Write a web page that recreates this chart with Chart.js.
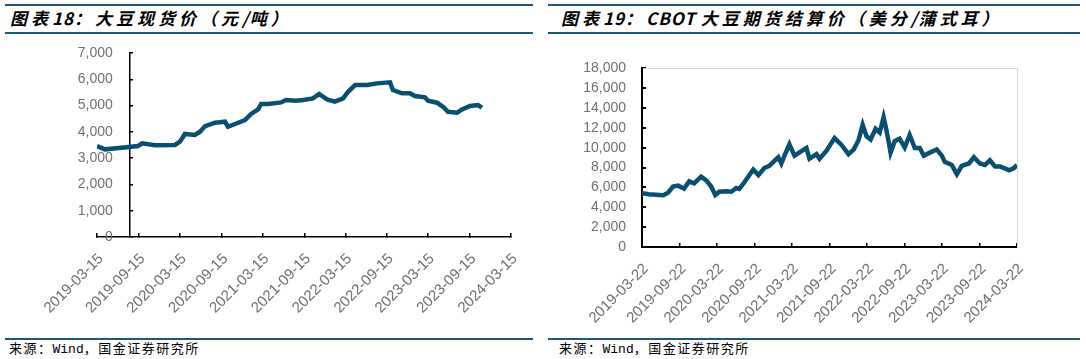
<!DOCTYPE html>
<html>
<head>
<meta charset="utf-8">
<script src="https://cdn.jsdelivr.net/npm/chart.js@4.4.1/dist/chart.umd.min.js"></script>
<style>
body{margin:0;width:1086px;height:359px;background:#fff;position:relative;overflow:hidden;font-family:"Noto Sans CJK SC",sans-serif;color:#000}
.rule{position:absolute;height:2px;background:#1d5876}
.title{position:absolute;top:6px;line-height:24px;font-size:17px;font-style:italic;font-weight:bold;letter-spacing:4px;white-space:nowrap}
.title .lat{letter-spacing:1px}
.src{position:absolute;top:340px;line-height:16px;font-size:13px;letter-spacing:1.5px;white-space:nowrap}
.src .lat{font-family:"Liberation Mono",monospace;letter-spacing:0}
.box{position:absolute;top:40px;width:543px;height:296px}
</style>
</head>
<body>
<div class="rule" style="left:5px;top:4px;width:528px"></div>
<div class="rule" style="left:5px;top:32px;width:528px"></div>
<div class="rule" style="left:548px;top:4px;width:532px"></div>
<div class="rule" style="left:548px;top:32px;width:532px"></div>
<div class="title" style="left:10px">图表<span class="lat">18</span>：大豆现货价（元<span class="lat">/</span>吨）</div>
<div class="title" style="left:561px">图表<span class="lat">19</span>：<span class="lat">CBOT </span>大豆期货结算价（美分<span class="lat">/</span>蒲式耳）</div>

<div class="box" style="left:0"><canvas id="spotChart"></canvas></div>
<div class="box" style="left:543px"><canvas id="cbotChart"></canvas></div>

<div class="rule" style="left:5px;top:338px;width:528px"></div>
<div class="rule" style="left:548px;top:338px;width:532px"></div>
<div class="src" style="left:9px">来源：<span class="lat">Wind</span>，国金证券研究所</div>
<div class="src" style="left:559px">来源：<span class="lat">Wind</span>，国金证券研究所</div>

<script>
// 大豆现货价（元/吨）
const spotDates = ['2019-03-15','2019-04-19','2019-06-20','2019-09-12','2019-09-30','2019-11-26','2020-02-22','2020-03-15','2020-04-06','2020-05-20','2020-06-12','2020-07-04','2020-08-17','2020-09-30','2020-10-13','2020-11-13','2020-12-27','2021-01-23','2021-02-23','2021-03-08','2021-04-08','2021-06-04','2021-06-26','2021-08-09','2021-09-09','2021-10-23','2021-11-19','2021-12-24','2022-01-28','2022-03-05','2022-03-27','2022-04-27','2022-06-19','2022-08-02','2022-09-28','2022-10-11','2022-11-20','2022-12-25','2023-01-16','2023-03-01','2023-03-15','2023-04-23','2023-05-20','2023-06-11','2023-07-21','2023-08-12','2023-09-16','2023-10-21','2023-11-08'];
const spotValues = [3460,3335,3390,3460,3565,3490,3500,3625,3920,3880,4005,4220,4350,4385,4195,4300,4450,4680,4855,5060,5060,5120,5210,5185,5210,5275,5440,5235,5150,5275,5525,5780,5780,5845,5885,5590,5465,5465,5365,5315,5185,5110,4955,4765,4730,4855,4985,5020,4920];
const spotTicks = ['2019-03-15','2019-09-15','2020-03-15','2020-09-15','2021-03-15','2021-09-15','2022-03-15','2022-09-15','2023-03-15','2023-09-15','2024-03-15'];

// CBOT 大豆期货结算价（美分/蒲式耳）
const cbotDates = ['2019-03-22','2019-04-25','2019-07-03','2019-07-27','2019-08-20','2019-09-14','2019-10-13','2019-11-07','2019-12-01','2020-01-04','2020-01-29','2020-02-22','2020-03-13','2020-04-01','2020-05-05','2020-05-30','2020-06-23','2020-07-08','2020-08-01','2020-09-14','2020-10-09','2020-11-07','2020-12-01','2020-12-21','2021-01-14','2021-01-29','2021-02-13','2021-03-09','2021-04-03','2021-05-07','2021-05-31','2021-06-15','2021-07-19','2021-08-03','2021-09-06','2021-10-15','2021-11-18','2021-12-22','2022-01-16','2022-02-09','2022-03-01','2022-03-20','2022-04-09','2022-05-03','2022-05-23','2022-06-11','2022-06-21','2022-07-06','2022-07-15','2022-08-04','2022-08-28','2022-09-22','2022-10-16','2022-11-10','2022-12-04','2022-12-24','2023-01-22','2023-02-25','2023-03-22','2023-04-05','2023-05-09','2023-06-03','2023-06-27','2023-08-01','2023-08-25','2023-09-23','2023-10-18','2023-11-11','2023-12-06','2023-12-30','2024-02-12','2024-03-07','2024-03-22'];
const cbotValues = [5410,5315,5220,5470,6090,6185,5875,6620,6405,7090,6715,6090,5250,5570,5625,5570,5940,5850,6500,7805,7245,7955,8180,8580,9045,8420,9205,10350,9205,9670,9980,8890,9355,8890,9700,10975,10290,9355,9820,10755,12310,11160,10845,11910,11535,13085,12150,10600,9510,10660,10910,10040,11285,9980,9980,9205,9510,9820,9205,8580,8270,7340,8180,8420,9045,8420,8270,8740,8115,8115,7740,7955,8270];
const cbotTicks = ['2019-03-22','2019-09-22','2020-03-22','2020-09-22','2021-03-22','2021-09-22','2022-03-22','2022-09-22','2023-03-22','2023-09-22','2024-03-22'];

const lineColor = '#0b4f70';
const labelColor = '#707070';
const yFont = {family: '"Liberation Sans", Arial, sans-serif', size: 14};
const xFont = {family: '"Liberation Sans", Arial, sans-serif', size: 15};

const dayOf = (s, base) => (Date.UTC(+s.slice(0,4), +s.slice(5,7) - 1, +s.slice(8,10)) - base) / 86400000;
const fmt = v => v.toLocaleString('en-US');

function xScale(tickDates, base, axisHeight) {
  const tickDays = tickDates.map(d => dayOf(d, base));
  return {
    type: 'linear', min: 0, max: tickDays[tickDays.length - 1],
    afterBuildTicks: s => { s.ticks = tickDays.map(v => ({value: v})); },
    afterFit: s => { s.height = axisHeight; },
    grid: {display: true, drawOnChartArea: false, drawTicks: true, tickLength: -4, color: '#000', lineWidth: 1.5},
    border: {color: '#000', width: 1.5},
    ticks: {
      autoSkip: false, minRotation: 45, maxRotation: 45, padding: 17, labelOffset: 4,
      color: labelColor, font: xFont,
      callback: v => tickDates[tickDays.indexOf(v)]
    }
  };
}

/* 左图：大豆现货价 */
const spotBase = Date.UTC(2019, 2, 15);
const spotPoints = spotDates.map((d, i) => ({x: dayOf(d, spotBase), y: spotValues[i]}));
const spotYAxisDay = 146, spotLabelDay = 70;
new Chart(document.getElementById('spotChart'), {
  type: 'line',
  data: {datasets: [{data: spotPoints, borderColor: lineColor, borderWidth: 4.5, pointRadius: 0, tension: 0}]},
  options: {
    responsive: true, maintainAspectRatio: false, animation: false,
    layout: {padding: {left: 97, right: 32, top: 13, bottom: 0}},
    plugins: {legend: {display: false}, tooltip: {enabled: false}},
    scales: {
      x: xScale(spotTicks, spotBase, 99),
      y: {
        position: {x: spotYAxisDay}, min: 0, max: 7000,
        ticks: {display: false, stepSize: 1000},
        grid: {drawOnChartArea: false, tickLength: -4, color: '#000', lineWidth: 1.5},
        border: {color: '#000', width: 1.5}
      },
      yl: {
        axis: 'y', position: {x: spotLabelDay}, min: 0, max: 7000,
        ticks: {stepSize: 1000, color: labelColor, font: yFont, callback: fmt},
        grid: {display: false}, border: {display: false}
      }
    }
  }
});

/* 右图：CBOT 大豆期货结算价 */
const cbotBase = Date.UTC(2019, 2, 22);
const cbotPoints = cbotDates.map((d, i) => ({x: dayOf(d, cbotBase), y: cbotValues[i]}));
const cbotX = xScale(cbotTicks, cbotBase, 89);
cbotX.border.width = 2;
new Chart(document.getElementById('cbotChart'), {
  type: 'line',
  data: {datasets: [{data: cbotPoints, borderColor: lineColor, borderWidth: 4.5, pointRadius: 0, tension: 0}]},
  options: {
    responsive: true, maintainAspectRatio: false, animation: false,
    layout: {padding: {left: 39, right: 69, top: 14, bottom: 0}},
    plugins: {legend: {display: false}, tooltip: {enabled: false}},
    scales: {
      x: cbotX,
      xTop: {
        type: 'linear', position: 'top', min: 0, max: cbotX.max,
        ticks: {display: false}, grid: {display: false},
        border: {color: '#d9d9d9', width: 1}, afterFit: s => { s.height = 0; }
      },
      y: {
        min: 0, max: 18000,
        afterFit: s => { s.width = 60; },
        ticks: {stepSize: 2000, padding: 20, color: labelColor, font: yFont, callback: fmt},
        grid: {drawOnChartArea: false, tickLength: -4, color: '#000', lineWidth: 2},
        border: {color: '#000', width: 2}
      },
      yRight: {
        axis: 'y', position: 'right', min: 0, max: 18000,
        ticks: {display: false}, grid: {display: false},
        border: {color: '#d9d9d9', width: 1}, afterFit: s => { s.width = 0; }
      }
    }
  }
});
</script>
</body>
</html>
